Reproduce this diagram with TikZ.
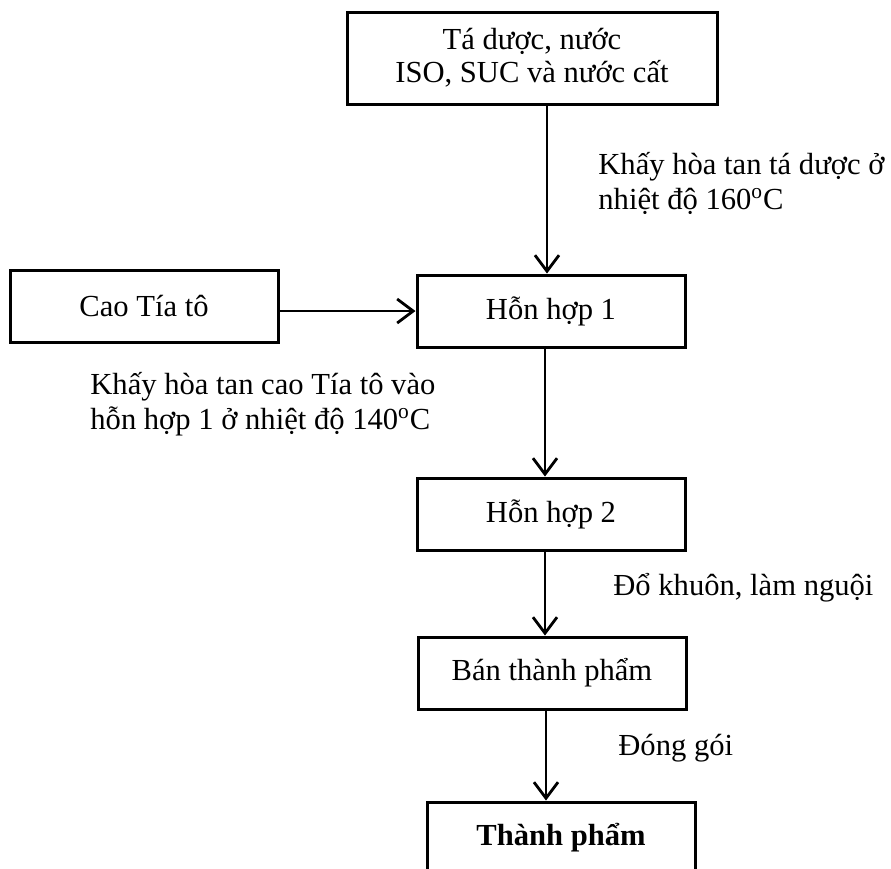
\documentclass[tikz,border=0pt]{standalone}
\usepackage{fontspec}
\setmainfont{Liberation Serif}
\usetikzlibrary{arrows.meta}

\begin{document}
\begin{tikzpicture}[x=0.5pt,y=-0.5pt,
  stepbox/.style={draw,line width=1.5pt,align=center,inner sep=0pt,minimum width=134pt,minimum height=36pt},
  flow/.style={line width=1.4pt,-{Straight Barb[length=8pt,width=12pt,line width=1.4pt]}},
  note/.style={align=left,inner sep=0pt,anchor=west}]
\useasboundingbox (0,0) rectangle (891,869);
\clip (0,0) rectangle (891,869);
\fontsize{15.3}{17.5}\selectfont
% boxes
\node[stepbox,minimum width=185pt,minimum height=46pt,font=\fontsize{15.3}{16.5}\selectfont] (taduoc) at (532,58) {Tá dược, nước\\ISO, SUC và nước cất};
\node[stepbox] (cao) at (144,306) {Cao Tía tô};
\node[stepbox] (hh1) at (551,311) {Hỗn hợp 1};
\node[stepbox] (hh2) at (551,514) {Hỗn hợp 2};
\node[stepbox] (btp) at (552,673) {Bán thành phẩm};
\node[stepbox] (tp) at (561,838) {\textbf{Thành phẩm}};
% notes
\node[note] (n1) at (598,183) {Khấy hòa tan tá dược ở\\nhiệt độ 160\textsuperscript{o}C};
\node[note] (n2) at (90,404) {Khấy hòa tan cao Tía tô vào\\hỗn hợp 1 ở nhiệt độ 140\textsuperscript{o}C};
\node[note] (n3) at (613,588) {Đổ khuôn, làm nguội};
\node[note] (n4) at (618,748) {Đóng gói};
% arrows
\draw[flow] ([xshift=-2pt]hh1.north |- taduoc.south) -- ([xshift=-2pt]hh1.north);
\draw[flow] (cao.east |- hh1.west) -- (hh1.west);
\foreach \a/\b in {hh1/hh2,hh2/btp,btp/tp}
  \draw[flow] ([xshift=-3pt]\a.south) -- ([xshift=-3pt]\a.south |- \b.north);
\end{tikzpicture}
\end{document}
